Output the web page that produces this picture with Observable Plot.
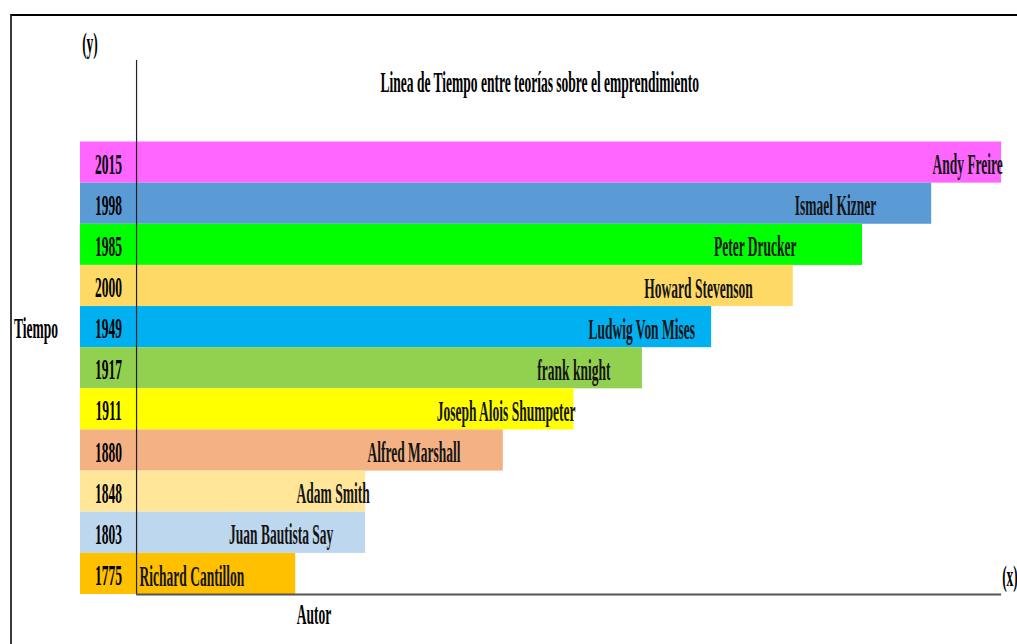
<!DOCTYPE html>
<html>
<head>
<meta charset="utf-8">
<script src="https://cdn.jsdelivr.net/npm/d3@7"></script>
<script src="https://cdn.jsdelivr.net/npm/@observablehq/plot@0.6"></script>
<style>
  html, body { margin: 0; padding: 0; background: #fff; overflow: hidden; }
  #wrap { position: relative; width: 1017px; height: 644px; }
  #chart svg { position: absolute; left: 0; top: 0; background: transparent; max-width: none; }
  .lbl {
    position: absolute; width: 700px; text-align: center; white-space: nowrap;
    font-family: "Liberation Serif", "Times New Roman", serif; font-weight: bold;
    font-size: 30px; line-height: 30px; color: #000;
    transform: scaleX(0.45); transform-origin: 50% 50%;
  }
  #frame {
    position: absolute; left: 10px; top: 14px; width: 1010px; height: 640px;
    border-top: 2px solid #000; border-left: 2px solid #3a3a3a; pointer-events: none;
  }
</style>
</head>
<body>
<div id="wrap">
  <div id="chart"></div>
  <div id="frame"></div>
</div>
<script>
// ---- data (top to bottom) ----
const years   = ["2015", "1998", "1985", "2000", "1949", "1917", "1911", "1880", "1848", "1803", "1775"];
const authors = ["Andy Freire", "Ismael Kizner", "Peter Drucker", "Howard Stevenson", "Ludwig Von Mises",
                 "frank knight", "Joseph Alois Shumpeter", "Alfred Marshall", "Adam Smith",
                 "Juan Bautista Say", "Richard Cantillon"];
const lengths = [12.5, 11.49, 10.49, 9.49, 8.31, 7.31, 6.32, 5.30, 3.31, 3.31, 2.30];
const labelAt = [12.01, 10.10, 8.94, 8.12, 7.30, 6.32, 5.34, 4.01, 2.84, 2.09, 0.80];
const colors  = ["#FF66FF", "#5B9BD5", "#00FF00", "#FFD966", "#00B0F0", "#92D050",
                 "#FFFF00", "#F4B183", "#FFE699", "#BDD7EE", "#FFC000"];
const title = "Linea de Tiempo entre teorías sobre el emprendimiento";
const yLabel = "Tiempo", xLabel = "Autor";

const n = years.length;
const rows = years.map((yr, i) => ({
  year: yr, author: authors[i], len: lengths[i], at: labelAt[i], color: colors[i],
  lo: n - 1 - i, hi: n - i, mid: n - 1 - i + 0.5
}));
const xMin = -0.81;
const font = {fontFamily: "Liberation Serif, Times New Roman, serif", fontWeight: "bold", fontSize: 30};

const plot = Plot.plot({
  width: 1017, height: 644,
  marginLeft: 80, marginRight: 0, marginTop: 60, marginBottom: 50,
  x: {domain: [xMin, 12.73], range: [80, 1017], axis: null},
  y: {domain: [0, n], range: [594, 141.5], axis: null},
  color: {type: "identity"},
  marks: [
    Plot.rect(rows, {x1: () => xMin, x2: "len", y1: "lo", y2: "hi", fill: "color"}),
    Plot.ruleX([0], {stroke: "#222", strokeWidth: 1.2}),
    Plot.ruleY([0], {x1: 0, x2: d3.max(lengths), stroke: "#555", strokeWidth: 2.2}),
    Plot.text(rows, {x: () => xMin / 2, y: "mid", text: "year", fill: "#000", dy: 1.5, ...font}),
    Plot.text(rows, {x: "at", y: "mid", text: "author", fill: "#141414", dy: 2, ...font})
  ]
});

// compress glyphs horizontally to match the condensed lettering
plot.querySelectorAll("text").forEach(t => {
  const x = +t.getAttribute("x") || 0, y = +t.getAttribute("y") || 0;
  const tr = t.getAttribute("transform") || "";
  t.setAttribute("transform", `${tr} translate(${x},${y}) scale(0.45,1) translate(${-x},${-y})`);
});
document.getElementById("chart").append(plot);

// titles and axis labels
const wrap = document.getElementById("wrap");
function label(text, cx, top) {
  const d = document.createElement("div");
  d.className = "lbl";
  d.textContent = text;
  d.style.left = (cx - 350) + "px";
  d.style.top = top + "px";
  wrap.append(d);
}
label(title, 537.5, 67);
label("(y)", 90, 28);
label(yLabel, 35.5, 313);
label(xLabel, 314, 599);
label("(x)", 1009.5, 561);
</script>
</body>
</html>
